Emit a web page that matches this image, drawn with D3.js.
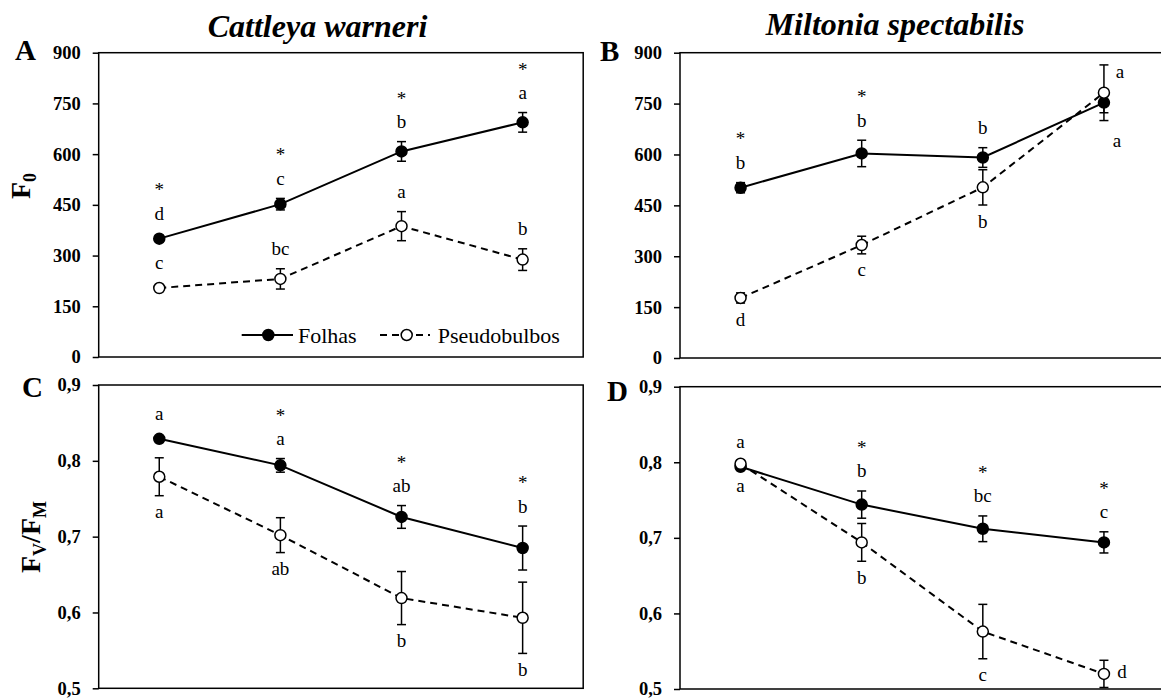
<!DOCTYPE html>
<html>
<head>
<meta charset="utf-8">
<script src="https://cdn.jsdelivr.net/npm/d3@7"></script>
<style>
  body { margin: 0; background: #fff; }
  svg { display: block; }
  text { font-family: "Liberation Serif", "Times New Roman", serif; fill: #000; }
</style>
</head>
<body>
<svg id="chart" width="1161" height="698"></svg>
<script>
// Sampling stages (x positions, unlabeled on the axis)
const stages = ["s1", "s2", "s3", "s4"];

// Axis ticks
const f0Ticks = [0, 150, 300, 450, 600, 750, 900];
const f0TickLabels = ["0", "150", "300", "450", "600", "750", "900"];
const fvTicks = [0.5, 0.6, 0.7, 0.8, 0.9];
const fvTickLabels = ["0,5", "0,6", "0,7", "0,8", "0,9"];

// F0 — Cattleya warneri
const cwF0Folhas = [350, 452, 608, 694];
const cwF0FolhasSE = [6, 17, 29, 29];
const cwF0Pseudo = [204, 231, 387, 288];
const cwF0PseudoSE = [5, 30, 43, 32];
// F0 — Miltonia spectabilis
const msF0Folhas = [502, 603, 591, 753];
const msF0FolhasSE = [15, 39, 29, 30];
const msF0Pseudo = [177, 333, 503, 782];
const msF0PseudoSE = [15, 26, 52, 82];
// Fv/Fm — Cattleya warneri
const cwFvFolhas = [0.829, 0.794, 0.726, 0.685];
const cwFvFolhasSE = [0.003, 0.009, 0.015, 0.029];
const cwFvPseudo = [0.779, 0.702, 0.619, 0.593];
const cwFvPseudoSE = [0.025, 0.023, 0.035, 0.047];
// Fv/Fm — Miltonia spectabilis
const msFvFolhas = [0.794, 0.744, 0.712, 0.694];
const msFvFolhasSE = [0.003, 0.018, 0.017, 0.014];
const msFvPseudo = [0.798, 0.694, 0.576, 0.520];
const msFvPseudoSE = [0.003, 0.025, 0.036, 0.018];

// Mean-separation letters and where they sit relative to each point
const cwF0FolhasLetters = ["d", "c", "b", "a"];
const cwF0FolhasSides = ["up", "up", "up", "up"];
const cwF0PseudoLetters = ["c", "bc", "a", "b"];
const cwF0PseudoSides = ["up", "up", "up", "up"];
const msF0FolhasLetters = ["b", "b", "b", "a"];
const msF0FolhasSides = ["up", "up", "up", "downright"];
const msF0PseudoLetters = ["d", "c", "b", "a"];
const msF0PseudoSides = ["down", "down", "down", "upright"];
const cwFvFolhasLetters = ["a", "a", "ab", "b"];
const cwFvFolhasSides = ["up", "up", "up", "up"];
const cwFvPseudoLetters = ["a", "ab", "b", "b"];
const cwFvPseudoSides = ["down", "down", "down", "down"];
const msFvFolhasLetters = ["a", "b", "bc", "c"];
const msFvFolhasSides = ["up", "up", "up", "up"];
const msFvPseudoLetters = ["a", "b", "c", "d"];
const msFvPseudoSides = ["down", "down", "down", "right"];

// Significant difference between organs (asterisk over the leaf label)
const cwF0Stars = [true, true, true, true];
const msF0Stars = [true, true, false, false];
const cwFvStars = [false, true, true, true];
const msFvStars = [false, true, true, true];

const svg = d3.select("#chart");
const R = 5.5;        // marker radius
const CAP = 4.5;      // error cap half-width

function seriesOf(values, se, letters, sides, stars, open) {
  return stages.map((s, i) => ({
    stage: s, v: values[i], e: se[i], letter: letters[i], side: sides[i],
    star: stars ? stars[i] : false, open
  }));
}

const panels = [
  { id: "A", left: 98.7, top: 52.7, bottom: 357, domain: [0, 900], ticks: f0Ticks, tickLabels: f0TickLabels,
    letterPos: [15, 60],
    series: [seriesOf(cwF0Folhas, cwF0FolhasSE, cwF0FolhasLetters, cwF0FolhasSides, cwF0Stars, false),
             seriesOf(cwF0Pseudo, cwF0PseudoSE, cwF0PseudoLetters, cwF0PseudoSides, null, true)] },
  { id: "B", left: 680, top: 52.7, bottom: 358, domain: [0, 900], ticks: f0Ticks, tickLabels: f0TickLabels,
    letterPos: [600, 61],
    series: [seriesOf(msF0Folhas, msF0FolhasSE, msF0FolhasLetters, msF0FolhasSides, msF0Stars, false),
             seriesOf(msF0Pseudo, msF0PseudoSE, msF0PseudoLetters, msF0PseudoSides, null, true)] },
  { id: "C", left: 98.7, top: 385, bottom: 688.3, domain: [0.5, 0.9], ticks: fvTicks, tickLabels: fvTickLabels,
    letterPos: [22, 397],
    series: [seriesOf(cwFvFolhas, cwFvFolhasSE, cwFvFolhasLetters, cwFvFolhasSides, cwFvStars, false),
             seriesOf(cwFvPseudo, cwFvPseudoSE, cwFvPseudoLetters, cwFvPseudoSides, null, true)] },
  { id: "D", left: 680, top: 386.7, bottom: 689, domain: [0.5, 0.9], ticks: fvTicks, tickLabels: fvTickLabels,
    letterPos: [607, 401],
    series: [seriesOf(msFvFolhas, msFvFolhasSE, msFvFolhasLetters, msFvFolhasSides, msFvStars, false),
             seriesOf(msFvPseudo, msFvPseudoSE, msFvPseudoLetters, msFvPseudoSides, null, true)] }
];

const PLOT_W = 484.5;

panels.forEach(p => {
  const x = d3.scalePoint().domain(stages).range([p.left, p.left + PLOT_W]).padding(0.5);
  const y = d3.scaleLinear().domain(p.domain).range([p.bottom, p.top]);
  const g = svg.append("g");

  // frame
  g.append("rect")
    .attr("x", p.left).attr("y", p.top)
    .attr("width", PLOT_W).attr("height", p.bottom - p.top)
    .attr("fill", "none").attr("stroke", "#000").attr("stroke-width", 1.5);

  // y axis
  const labelOf = d3.scaleOrdinal().domain(p.ticks).range(p.tickLabels);
  const ax = g.append("g")
    .attr("transform", `translate(${p.left},0)`)
    .call(d3.axisLeft(y).tickValues(p.ticks).tickFormat(d => labelOf(d)).tickSize(6).tickPadding(12));
  ax.select(".domain").remove();
  ax.selectAll(".tick line").attr("stroke", "#000").attr("stroke-width", 1.5);
  ax.selectAll(".tick text")
    .attr("font-family", "Liberation Serif, Times New Roman, serif")
    .attr("font-size", 18.5).attr("font-weight", "bold").attr("fill", "#000");

  // panel letter
  g.append("text").attr("x", p.letterPos[0]).attr("y", p.letterPos[1])
    .attr("font-size", 29).attr("font-weight", "bold").text(p.id);

  const line = d3.line().x(d => x(d.stage)).y(d => y(d.v));

  p.series.forEach(s => {
    const open = s[0].open;
    // error bars
    const eb = g.append("g").attr("stroke", "#000").attr("stroke-width", 1.5);
    s.forEach(d => {
      const cx = x(d.stage);
      eb.append("line").attr("x1", cx).attr("x2", cx).attr("y1", y(d.v - d.e)).attr("y2", y(d.v + d.e));
      eb.append("line").attr("x1", cx - CAP).attr("x2", cx + CAP).attr("y1", y(d.v + d.e)).attr("y2", y(d.v + d.e));
      eb.append("line").attr("x1", cx - CAP).attr("x2", cx + CAP).attr("y1", y(d.v - d.e)).attr("y2", y(d.v - d.e));
    });
    // connecting line
    g.append("path").datum(s).attr("d", line)
      .attr("fill", "none").attr("stroke", "#000").attr("stroke-width", 2)
      .attr("stroke-dasharray", open ? "7,5" : null);
  });

  // markers on top of all lines
  p.series.forEach(s => {
    g.selectAll(null).data(s).enter().append("circle")
      .attr("cx", d => x(d.stage)).attr("cy", d => y(d.v)).attr("r", R)
      .attr("fill", d => d.open ? "#fff" : "#000")
      .attr("stroke", "#000").attr("stroke-width", 1.5);
  });

  // letters and asterisks
  p.series.forEach(s => {
    s.forEach(d => {
      const cx = x(d.stage);
      const top = Math.min(y(d.v + d.e), y(d.v) - R);
      const bot = Math.max(y(d.v - d.e), y(d.v) + R);
      let lx = cx, lc;
      if (d.side === "up") lc = top - 18;
      else if (d.side === "down") lc = bot + 18;
      else if (d.side === "right") { lx = cx + 18; lc = y(d.v); }
      else if (d.side === "upright") { lx = cx + 16; lc = y(d.v + d.e) + 9; }
      else if (d.side === "downright") { lx = cx + 13; lc = y(d.v - d.e) + 30; }
      g.append("text").attr("x", lx).attr("y", lc + 4.5)
        .attr("text-anchor", "middle").attr("font-size", 19).text(d.letter);
      if (d.star) {
        g.append("text").attr("x", lx).attr("y", lc - 29 + 10)
          .attr("text-anchor", "middle").attr("font-size", 19).text("*");
      }
    });
  });
});

// species titles
svg.append("text").attr("x", 317.5).attr("y", 36.5).attr("text-anchor", "middle")
  .attr("font-size", 32).attr("font-weight", "bold").attr("font-style", "italic").text("Cattleya warneri");
svg.append("text").attr("x", 895).attr("y", 34.5).attr("text-anchor", "middle")
  .attr("font-size", 32).attr("font-weight", "bold").attr("font-style", "italic").text("Miltonia spectabilis");

// y-axis titles
const f0Title = svg.append("text").attr("transform", "translate(30,186) rotate(-90)")
  .attr("text-anchor", "middle").attr("font-size", 28).attr("font-weight", "bold");
f0Title.append("tspan").text("F");
f0Title.append("tspan").attr("font-size", 18).attr("dy", 6).text("0");

const fvTitle = svg.append("text").attr("transform", "translate(40,537) rotate(-90)")
  .attr("text-anchor", "middle").attr("font-size", 28).attr("font-weight", "bold");
fvTitle.append("tspan").text("F");
fvTitle.append("tspan").attr("font-size", 18).attr("dy", 6).text("V");
fvTitle.append("tspan").attr("dy", -6).text("/F");
fvTitle.append("tspan").attr("font-size", 18).attr("dy", 6).text("M");

// legend (inside panel A)
const lg = svg.append("g");
const legY = 335;
lg.append("line").attr("x1", 241.7).attr("x2", 293).attr("y1", legY).attr("y2", legY)
  .attr("stroke", "#000").attr("stroke-width", 2);
lg.append("circle").attr("cx", 268.3).attr("cy", legY).attr("r", R)
  .attr("fill", "#000").attr("stroke", "#000").attr("stroke-width", 1.5);
lg.append("text").attr("x", 298).attr("y", legY + 7.5).attr("font-size", 22).text("Folhas");
lg.append("line").attr("x1", 380).attr("x2", 430).attr("y1", legY).attr("y2", legY)
  .attr("stroke", "#000").attr("stroke-width", 2).attr("stroke-dasharray", "7,5");
lg.append("circle").attr("cx", 406.7).attr("cy", legY).attr("r", R)
  .attr("fill", "#fff").attr("stroke", "#000").attr("stroke-width", 1.5);
lg.append("text").attr("x", 437.7).attr("y", legY + 7.5).attr("font-size", 22).text("Pseudobulbos");
</script>
</body>
</html>
